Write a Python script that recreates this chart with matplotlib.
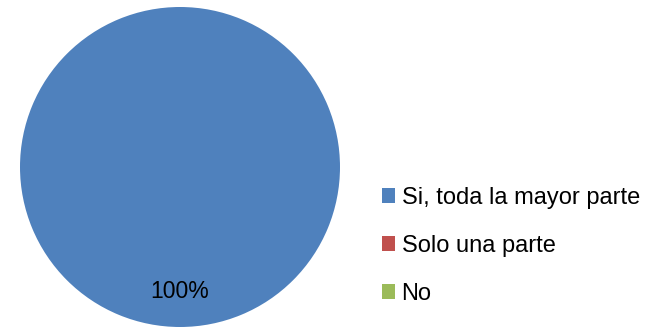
import matplotlib.pyplot as plt

labels = ['Si, toda la mayor parte', 'Solo una parte', 'No']
values = [100, 0, 0]
colors = ['#4F81BD', '#C0504D', '#9BBB59']

fig = plt.figure(figsize=(6.61, 3.27), dpi=100)
ax = fig.add_axes([20 / 661, 0.0, 320 / 661, 320 / 327])


def pct_label(p):
    return f'{p:.0f}%' if p > 0 else ''


wedges, texts, autotexts = ax.pie(values, colors=colors, startangle=90, counterclock=False,
                                  autopct=pct_label, pctdistance=0.78,
                                  textprops={'fontsize': 16.5, 'family': 'Liberation Sans'})
ax.set_xlim(-1, 1)
ax.set_ylim(-1, 1)
ax.set_aspect('equal')

fig.legend(wedges, labels, loc='center left', bbox_to_anchor=(382 / 661, 0.248),
           frameon=False, prop={'family': 'Liberation Sans', 'size': 17},
           handlelength=0.55, handleheight=0.55, handletextpad=0.28,
           labelspacing=1.1, borderpad=0, borderaxespad=0)

fig.savefig('out.png', dpi=100)
